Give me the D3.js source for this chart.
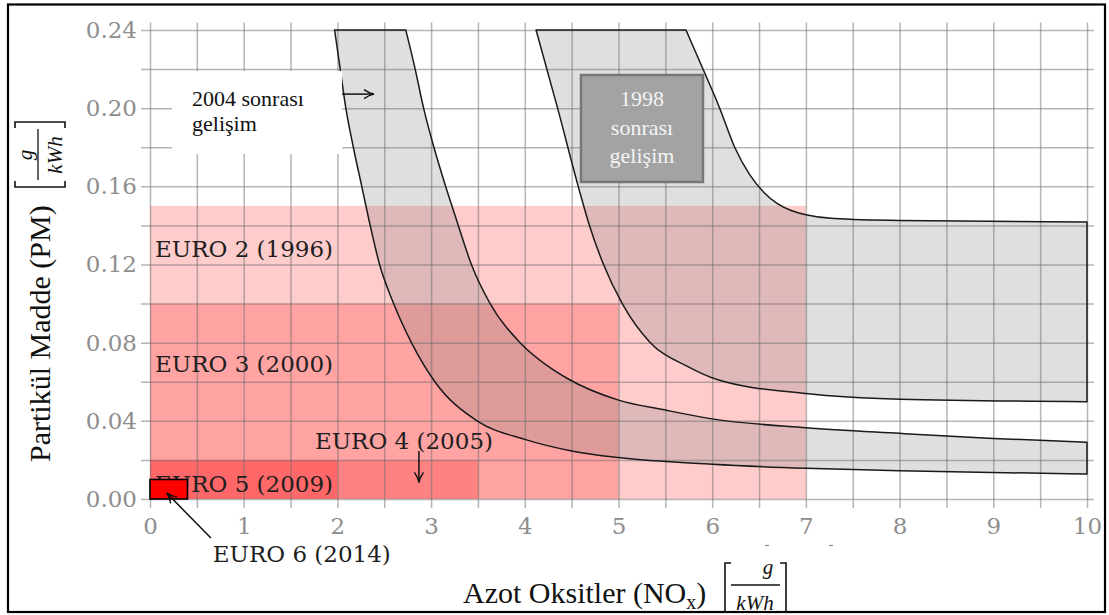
<!DOCTYPE html>
<html><head><meta charset="utf-8">
<script src="https://cdn.jsdelivr.net/npm/d3@7"></script>
<style>body{margin:0;background:#fff}svg{display:block}</style>
</head><body>
<svg id="chart" width="1109" height="615"></svg>
<script>
// ---------- data ----------
const standards  = ["EURO 2", "EURO 3", "EURO 4", "EURO 5", "EURO 6"];
const years      = [1996, 2000, 2005, 2009, 2014];
const noxLimits  = [7.0, 5.0, 3.5, 2.0, 0.4];
const pmLimits   = [0.15, 0.10, 0.02, 0.02, 0.01];

const xTickValues = [0,1,2,3,4,5,6,7,8,9,10];
const yTickValues = [0.00,0.04,0.08,0.12,0.16,0.20,0.24];

// "2004 sonrası gelişim" band
const band2004LowerX = [1.97,2.03,2.09,2.17,2.26,2.35,2.45,2.60,2.79,3.04,3.49,4.0,4.5,5,6,7,8,10];
const band2004LowerY = [0.24,0.22,0.20,0.18,0.16,0.14,0.12,0.10,0.08,0.06,0.04,0.0305,0.0246,0.0212,0.0178,0.0157,0.0144,0.0128];
const band2004UpperX = [2.73,2.83,2.92,3.03,3.155,3.29,3.43,3.63,3.95,4.27,4.45,5,5.5,6,7,8,9,10];
const band2004UpperY = [0.24,0.22,0.20,0.18,0.16,0.14,0.12,0.10,0.08,0.0672,0.0618,0.0506,0.0455,0.041,0.0365,0.0336,0.031,0.029];
// "1998 sonrası gelişim" band
const band1998LowerX = [4.12,4.35,4.57,4.69,4.84,5.04,5.34,5.73,6.06,7,8,10];
const band1998LowerY = [0.24,0.20,0.16,0.14,0.12,0.10,0.08,0.068,0.061,0.054,0.0511,0.0498];
const band1998UpperX = [5.72,5.92,6.08,6.24,6.40,6.55,6.70,6.85,7.0,7.3,8,10];
const band1998UpperY = [0.24,0.218,0.20,0.18,0.166,0.157,0.151,0.1475,0.1455,0.1435,0.1425,0.1418];

const note2004 = ["2004 sonrası", "gelişim"];
const note1998 = ["1998", "sonrası", "gelişim"];

// ---------- setup ----------
const svg = d3.select("#chart");
const x = d3.scaleLinear().domain([0,10]).range([150,1087]);
const y = d3.scaleLinear().domain([0,0.24]).range([499,30]);
const serifCM = "'DejaVu Serif', serif";
const times = "'Liberation Serif', 'Times New Roman', serif";

const defs = svg.append("defs");
defs.append("marker").attr("id","arr").attr("markerUnits","userSpaceOnUse")
  .attr("markerWidth",14).attr("markerHeight",12).attr("refX",11).attr("refY",5)
  .attr("orient","auto")
  .append("path").attr("d","M1,0.5 Q6,4 11,5 Q6,6 1,9.5").attr("fill","none")
  .attr("stroke","#111").attr("stroke-width",1.4);

// outer frame
svg.append("rect").attr("x",8).attr("y",4.5).attr("width",1097).attr("height",607.5)
  .attr("fill","none").attr("stroke","#000").attr("stroke-width",2.2);

// standard regions (stacked translucent red)
const reg = svg.append("g");
standards.forEach((s,i)=>{
  if (i === 4) return;
  reg.append("rect")
    .attr("x",x(0)).attr("y",y(pmLimits[i]))
    .attr("width",x(noxLimits[i])-x(0)).attr("height",y(0)-y(pmLimits[i]))
    .attr("fill","#ff0000").attr("fill-opacity",0.2);
});

// bands
const zip = (xs,ys)=>xs.map((v,i)=>[v,ys[i]]);
const line = d3.line().x(d=>x(d[0])).y(d=>y(d[1])).curve(d3.curveMonotoneX);
function bandPath(lx,ly,ux,uy){
  const lower = zip(lx,ly), upper = zip(ux,uy).reverse();
  return line(lower) + line(upper).replace(/^M/,"L") + "Z";
}
const bands = [
  bandPath(band2004LowerX,band2004LowerY,band2004UpperX,band2004UpperY),
  bandPath(band1998LowerX,band1998LowerY,band1998UpperX,band1998UpperY)
];
svg.append("g").selectAll("path").data(bands).join("path")
  .attr("d",d=>d).attr("fill","rgb(128,128,128)").attr("fill-opacity",0.25).attr("stroke","none");

// grid via axes
const gridX = d3.range(0,10.001,0.5);
const gridY = d3.range(0,0.2401,0.02);
const gx = svg.append("g").attr("transform","translate(0,508)")
  .call(d3.axisBottom(x).tickValues(gridX).tickSize(-(508-22.5)).tickFormat(""));
const gy = svg.append("g").attr("transform","translate(141,0)")
  .call(d3.axisLeft(y).tickValues(gridY).tickSize(-(1094-141)).tickFormat(""));
[gx,gy].forEach(g=>{
  g.select(".domain").remove();
  g.selectAll(".tick line").attr("stroke","rgb(110,110,110)").attr("stroke-opacity",0.5).attr("stroke-width",1.5);
});

// band outlines
svg.append("g").selectAll("path").data(bands).join("path")
  .attr("d",d=>d).attr("fill","none").attr("stroke","#1a1a1a").attr("stroke-width",1.5)
  .attr("stroke-linejoin","round");

// tick labels
const xl = svg.append("g").attr("transform","translate(0,508)")
  .call(d3.axisBottom(x).tickValues(xTickValues).tickSize(0).tickPadding(10).tickFormat(d3.format("d")));
const yl = svg.append("g").attr("transform","translate(139,0)")
  .call(d3.axisLeft(y).tickValues(yTickValues).tickSize(0).tickPadding(2).tickFormat(d3.format(".2f")));
[xl,yl].forEach(g=>{
  g.select(".domain").remove();
  g.selectAll("text").attr("fill","#8e8e8e").attr("font-family",serifCM).attr("font-size",23);
});

// white box with 2004 note
svg.append("rect").attr("x",172).attr("y",71).attr("width",170).attr("height",83).attr("fill","#fff");
svg.append("g").selectAll("text").data(note2004).join("text")
  .attr("x",192).attr("y",(d,i)=>106+i*25).text(d=>d)
  .attr("font-family",times).attr("font-size",22).attr("fill","#111");
svg.append("line").attr("x1",342).attr("y1",y(0.2072)).attr("x2",374).attr("y2",y(0.2072))
  .attr("stroke","#111").attr("stroke-width",1.5).attr("marker-end","url(#arr)");

// 1998 note box
svg.append("rect").attr("x",581).attr("y",75).attr("width",122).attr("height",107)
  .attr("fill","#a3a3a3").attr("stroke","#777").attr("stroke-width",2.5);
svg.append("g").selectAll("text").data(note1998).join("text")
  .attr("x",642).attr("y",(d,i)=>106+i*28.5).attr("text-anchor","middle").text(d=>d)
  .attr("font-family",times).attr("font-size",22).attr("fill","#f4f4f4");

// EURO labels
const lab = svg.append("g").attr("font-family",serifCM).attr("font-size",23).attr("fill","#1e1e1e");
const labelText = i => `${standards[i]} (${years[i]})`;
lab.append("text").attr("x",x(0)+5).attr("y",y(0.124)).text(labelText(0));
lab.append("text").attr("x",x(0)+5).attr("y",y(0.065)).text(labelText(1));
lab.append("text").attr("x",x(1.76)).attr("y",y(0.0255)).text(labelText(2));
lab.append("text").attr("x",x(0)+5).attr("y",y(0.0037)).text(labelText(3));
lab.append("text").attr("x",x(0.67)).attr("y",y(-0.0322)).text(labelText(4));

// EURO 6 box
svg.append("rect").attr("x",x(0)).attr("y",y(pmLimits[4]))
  .attr("width",x(noxLimits[4])-x(0)).attr("height",y(0)-y(pmLimits[4]))
  .attr("fill","#ff0000").attr("stroke","#000").attr("stroke-width",1.6);

// arrows
svg.append("line").attr("x1",x(2.87)).attr("y1",y(0.0245)).attr("x2",x(2.87)).attr("y2",y(0.0085))
  .attr("stroke","#111").attr("stroke-width",1.5).attr("marker-end","url(#arr)");
svg.append("line").attr("x1",x(0.65)).attr("y1",y(-0.020)).attr("x2",x(0.18)).attr("y2",y(0.003))
  .attr("stroke","#111").attr("stroke-width",1.5).attr("marker-end","url(#arr)");

// small stray dashes under axis
[765,829].forEach(px=>svg.append("line").attr("x1",px).attr("x2",px+4).attr("y1",545.5).attr("y2",545.5)
  .attr("stroke","#888").attr("stroke-width",1.2));

// x axis label
const xt = svg.append("text").attr("x",463).attr("y",603).attr("font-family",times).attr("font-size",30).attr("fill","#111");
xt.append("tspan").text("Azot Oksitler (NO");
xt.append("tspan").attr("dy",6).attr("font-size",20).text("x");
xt.append("tspan").attr("dy",-6).text(")");
const xf = svg.append("g");
xf.append("path").attr("d","M731,563 L725,563 L725,612 L731,612").attr("fill","none").attr("stroke","#111").attr("stroke-width",1.6);
xf.append("path").attr("d","M780,563 L786,563 L786,612 L780,612").attr("fill","none").attr("stroke","#111").attr("stroke-width",1.6);
xf.append("text").attr("x",768).attr("y",574).attr("text-anchor","middle").attr("font-family",times)
  .attr("font-style","italic").attr("font-size",21).attr("fill","#111").text("g");
xf.append("line").attr("x1",731).attr("x2",780).attr("y1",585).attr("y2",585).attr("stroke","#111").attr("stroke-width",1.3);
xf.append("text").attr("x",755).attr("y",610).attr("text-anchor","middle").attr("font-family",times)
  .attr("font-style","italic").attr("font-size",21).attr("fill","#111").text("kWh");

// y axis label (rotated)
const yg = svg.append("g").attr("transform","translate(50,462) rotate(-90)");
yg.append("text").attr("x",0).attr("y",0).attr("font-family",times).attr("font-size",30).attr("fill","#111")
  .text("Partikül Madde (PM)");
yg.append("path").attr("d","M281,-35 L275,-35 L275,15 L281,15").attr("fill","none").attr("stroke","#111").attr("stroke-width",1.6);
yg.append("path").attr("d","M334,-35 L340,-35 L340,15 L334,15").attr("fill","none").attr("stroke","#111").attr("stroke-width",1.6);
yg.append("text").attr("x",307).attr("y",-18).attr("text-anchor","middle").attr("font-family",times)
  .attr("font-style","italic").attr("font-size",21).attr("fill","#111").text("g");
yg.append("line").attr("x1",282).attr("x2",333).attr("y1",-12).attr("y2",-12).attr("stroke","#111").attr("stroke-width",1.3);
yg.append("text").attr("x",307).attr("y",12).attr("text-anchor","middle").attr("font-family",times)
  .attr("font-style","italic").attr("font-size",21).attr("fill","#111").text("kWh");
</script>
</body></html>
